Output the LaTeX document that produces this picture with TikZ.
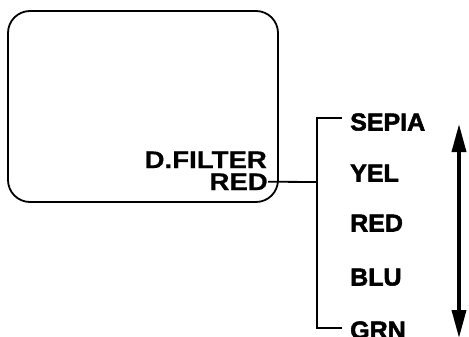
\documentclass[tikz,border=0pt]{standalone}
\usepackage{fontspec}
\setmainfont{Liberation Sans}[FakeStretch=1.1]
\newfontfamily\heavyfont{Liberation Sans}[FakeStretch=1.02,FakeBold=2.2,BoldFont={Liberation Sans Bold}]
\newfontfamily\medfont{Liberation Sans}[FakeStretch=1.15,FakeBold=0.6,BoldFont={Liberation Sans Bold}]
\usetikzlibrary{arrows.meta}
\begin{document}
\begin{tikzpicture}[x=1pt,y=-1pt,
  lbl/.style={font=\heavyfont\fontsize{24.5}{24.5}\selectfont\bfseries, inner sep=0pt, anchor=base west},
  scr/.style={font=\medfont\fontsize{24}{24}\selectfont\bfseries, inner sep=0pt, anchor=base east},
  ln/.style={line width=1.8pt}]
\useasboundingbox (0,0) rectangle (469,337);
\draw[ln, rounded corners=22pt] (8,11) rectangle (278,202);
\node[scr] (df) at (267,168) {D.FILTER};
\node[scr] (red) at (268,190) {RED};
\coordinate (j) at (317,182);
\coordinate (jt) at (317,118);
\coordinate (jb) at (317,328);
\coordinate (tt) at (342,118);
\coordinate (tb) at (342,328);
\draw[ln] (red.east) -- (j);
\draw[ln] (tt) -- (jt) -- (jb) -- (tb);
\node[lbl] (sepia) at (350,130.5) {SEPIA};
\node[lbl] (yel) at (350,181.5) {YEL};
\node[lbl] (red2) at (350,231.5) {RED};
\node[lbl] (blu) at (350,285.5) {BLU};
\node[lbl] (grn) at (350,338.5) {GRN};
\coordinate (at) at (459,124);
\coordinate (ab) at (459,338);
\draw[line width=3.6pt, {Triangle[width=14pt,length=28pt]}-{Triangle[width=14pt,length=28pt]}] (at) -- (ab);
\end{tikzpicture}
\end{document}
